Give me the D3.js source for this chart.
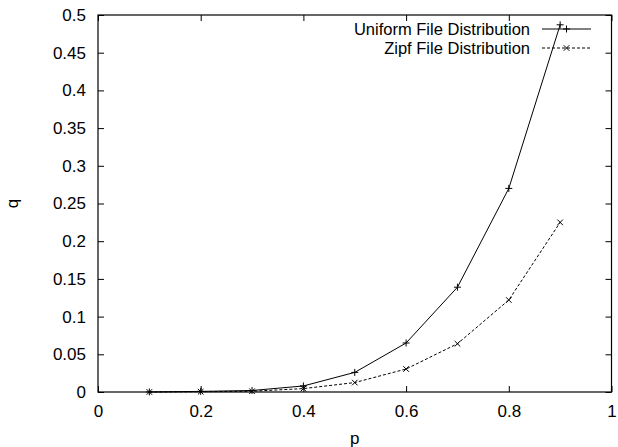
<!DOCTYPE html>
<html><head><meta charset="utf-8">
<script src="https://cdn.jsdelivr.net/npm/d3@7"></script>
<style>body{margin:0;background:#fff}svg{display:block}text{font-family:"Liberation Sans",Arial,sans-serif}</style>
</head><body>
<svg id="c" width="618" height="447"></svg>
<script>
const pValues = [0.1, 0.2, 0.3, 0.4, 0.5, 0.6, 0.7, 0.8, 0.9];
const uniformQ = [0.0001, 0.0008, 0.002, 0.008, 0.026, 0.065, 0.139, 0.270, 0.487];
const zipfQ = [0.0000, 0.0004, 0.001, 0.0045, 0.0125, 0.0305, 0.064, 0.122, 0.225];
const xTicks = [0, 0.2, 0.4, 0.6, 0.8, 1];
const yTicks = [0, 0.05, 0.1, 0.15, 0.2, 0.25, 0.3, 0.35, 0.4, 0.45, 0.5];
const seriesNames = ["Uniform File Distribution", "Zipf File Distribution"];

const L = 98, R = 611.5, T = 15, B = 392;
const svg = d3.select("#c");
const x = d3.scaleLinear().domain([0, 1]).range([L, R]);
const y = d3.scaleLinear().domain([0, 0.5]).range([B, T]);
const fs = 17, tl = 6;

// frame
svg.append("rect").attr("x", L).attr("y", T).attr("width", R - L).attr("height", B - T)
  .attr("fill", "none").attr("stroke", "#000").attr("stroke-width", 1.2);

const fmt = d => String(+d.toFixed(2));
const xb = svg.append("g").attr("transform", `translate(0,${B})`)
  .call(d3.axisBottom(x).tickValues(xTicks).tickFormat(fmt).tickSizeInner(-tl).tickSizeOuter(0).tickPadding(13));
const xt = svg.append("g").attr("transform", `translate(0,${T})`)
  .call(d3.axisTop(x).tickValues(xTicks).tickFormat("").tickSizeInner(-tl).tickSizeOuter(0));
const yl = svg.append("g").attr("transform", `translate(${L},0)`)
  .call(d3.axisLeft(y).tickValues(yTicks).tickFormat(fmt).tickSizeInner(-tl).tickSizeOuter(0).tickPadding(12));
const yr = svg.append("g").attr("transform", `translate(${R},0)`)
  .call(d3.axisRight(y).tickValues(yTicks).tickFormat("").tickSizeInner(-tl).tickSizeOuter(0));
[xb, xt, yl, yr].forEach(g => {
  g.select(".domain").remove();
  g.selectAll("line").attr("stroke", "#000");
  g.selectAll("text").attr("font-size", fs).attr("fill", "#000")
    .attr("font-family", '"Liberation Sans",Arial,sans-serif');
});

// axis labels
svg.append("text").attr("x", (L + R) / 2).attr("y", 444).attr("text-anchor", "middle")
  .attr("font-size", fs).text("p");
svg.append("text").attr("transform", `translate(18,${(T + B) / 2}) rotate(-90)`)
  .attr("text-anchor", "middle").attr("font-size", fs).text("q");

const line = d3.line().x(d => x(d[0])).y(d => y(d[1]));
const sUni = pValues.map((p, i) => [p, uniformQ[i]]);
const sZipf = pValues.map((p, i) => [p, zipfQ[i]]);

function plus(g, cx, cy, s) {
  g.append("path").attr("d", `M${cx - s},${cy}H${cx + s}M${cx},${cy - s}V${cy + s}`)
    .attr("stroke", "#000").attr("stroke-width", 1).attr("fill", "none");
}
function cross(g, cx, cy, s) {
  g.append("path").attr("d", `M${cx - s},${cy - s}L${cx + s},${cy + s}M${cx - s},${cy + s}L${cx + s},${cy - s}`)
    .attr("stroke", "#000").attr("stroke-width", 1).attr("fill", "none");
}

svg.append("path").datum(sUni).attr("d", line).attr("fill", "none").attr("stroke", "#000").attr("stroke-width", 1);
svg.append("path").datum(sZipf).attr("d", line).attr("fill", "none").attr("stroke", "#000")
  .attr("stroke-width", 1).attr("stroke-dasharray", "3,2");
const gp = svg.append("g");
sUni.forEach(d => plus(gp, x(d[0]), y(d[1]), 3.5));
sZipf.forEach(d => cross(gp, x(d[0]), y(d[1]), 2.8));

// legend
const legY = [29, 48];
seriesNames.forEach((name, i) => {
  svg.append("text").attr("x", 530).attr("y", legY[i]).attr("dy", "0.35em")
    .attr("text-anchor", "end").attr("font-size", 16.5).text(name);
  const ln = svg.append("line").attr("x1", 542).attr("x2", 591).attr("y1", legY[i]).attr("y2", legY[i])
    .attr("stroke", "#000").attr("stroke-width", 1);
  if (i === 1) { ln.attr("stroke-dasharray", "3,2"); cross(gp, 566.5, legY[i], 2.8); }
  else plus(gp, 566.5, legY[i], 3.5);
});
</script>
</body></html>
